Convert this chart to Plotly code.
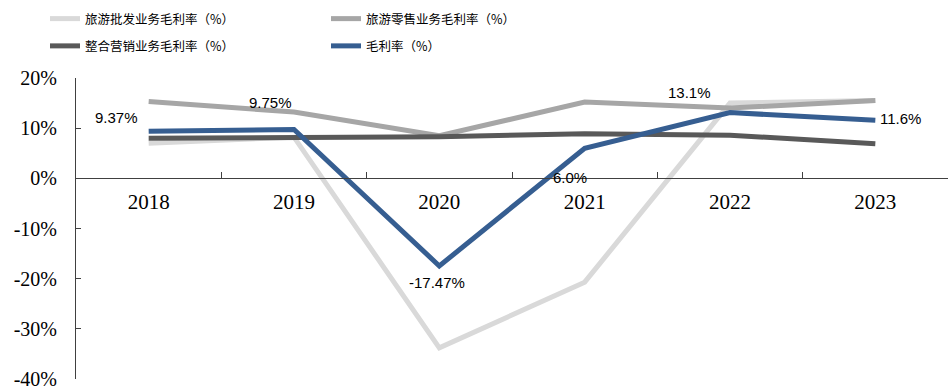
import plotly.graph_objects as go

years = ["2018", "2019", "2020", "2021", "2022", "2023"]
wholesale = [7.0, 8.2, -33.8, -20.7, 15.0, 15.5]
retail = [15.3, 13.2, 8.5, 15.2, 14.0, 15.5]
marketing = [8.0, 8.1, 8.3, 8.9, 8.6, 6.9]
gross = [9.37, 9.75, -17.47, 6.0, 13.1, 11.6]
gross_labels = ["9.37%", "9.75%", "-17.47%", "6.0%", "13.1%", "11.6%"]
label_shift = [(-32, 14), (-24, 27), (-2, -17), (-15, -29), (-41, 20), (25, 2)]
y_ticks = [-40, -30, -20, -10, 0, 10, 20]
y_tick_text = ["-40%", "-30%", "-20%", "-10%", "0%", "10%", "20%"]

names = ["旅游批发业务毛利率（%）", "旅游零售业务毛利率（%）", "整合营销业务毛利率（%）", "毛利率（%）"]
colors = ["#D9D9D9", "#A6A6A6", "#595959", "#365E91"]
legends = ["legend", "legend2", "legend", "legend2"]
series = [wholesale, retail, marketing, gross]

fig = go.Figure()
for name, col, lg, vals in zip(names, colors, legends, series):
    fig.add_trace(go.Scatter(
        x=years, y=vals, name=name, mode="lines",
        line=dict(color=col, width=5), legend=lg, legendgroup=name,
    ))

for i, (v, t, (dx, dy)) in enumerate(zip(gross, gross_labels, label_shift)):
    fig.add_annotation(x=i, y=v, xref="x", yref="y", text=t, showarrow=False, xshift=dx, yshift=dy,
                       font=dict(family="Liberation Sans, Arial", size=15, color="#000000"))

legend_font = dict(family="Noto Sans CJK SC", size=12.5, color="#000000")
fig.update_layout(
    width=952, height=390,
    margin=dict(l=76, r=4, t=78, b=11, autoexpand=False),
    plot_bgcolor="white", paper_bgcolor="white",
    showlegend=True,
    legend=dict(xref="container", yref="container", x=45/952, y=1-4/390, xanchor="left", yanchor="top",
                orientation="v", font=legend_font, tracegroupgap=8, itemwidth=30,
                bgcolor="rgba(0,0,0,0)"),
    legend2=dict(xref="container", yref="container", x=326/952, y=1-4/390, xanchor="left", yanchor="top",
                 orientation="v", font=legend_font, tracegroupgap=8, itemwidth=30,
                 bgcolor="rgba(0,0,0,0)"),
    xaxis=dict(
        type="category", anchor="free", position=2/3, side="bottom",
        showline=True, linecolor="#404040", linewidth=1,
        ticks="inside", ticklen=6, tickcolor="#404040", tickson="boundaries",
        showgrid=False, zeroline=False,
        tickfont=dict(family="Liberation Serif, Times New Roman", size=21, color="#000000"),
        ticklabelstandoff=4,
        range=[-0.5, 5.5],
    ),
    yaxis=dict(
        range=[-40, 20], tickvals=y_ticks, ticktext=y_tick_text,
        showline=True, linecolor="#404040", linewidth=1,
        ticks="inside", ticklen=5, tickcolor="#404040",
        showgrid=False, zeroline=False,
        tickfont=dict(family="Liberation Serif, Times New Roman", size=20, color="#000000"),
        ticklabelstandoff=14,
    ),
)

fig.write_html("out.html")
